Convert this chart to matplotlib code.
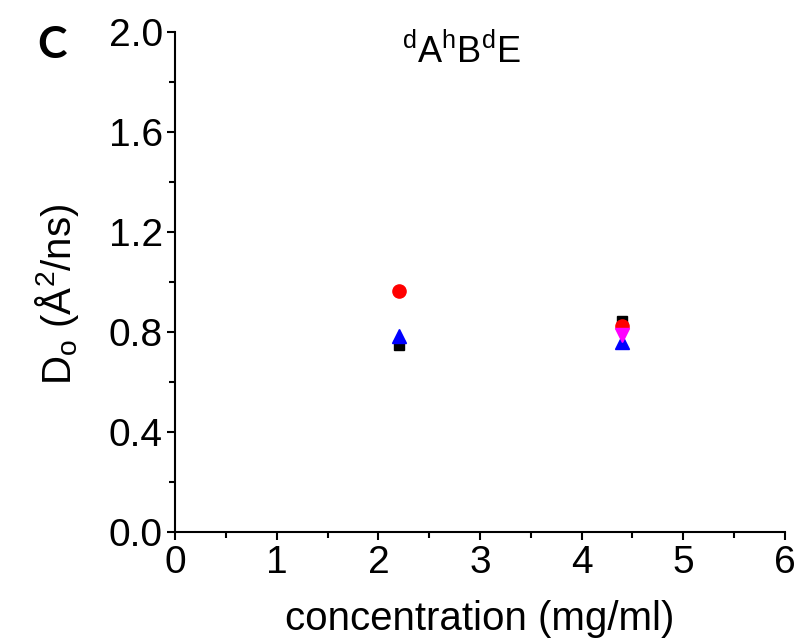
import matplotlib
import matplotlib.pyplot as plt
from matplotlib.ticker import MultipleLocator

matplotlib.use('agg', force=True)

plt.rcParams['font.family'] = ['Liberation Sans', 'DejaVu Sans']
plt.rcParams['mathtext.fontset'] = 'custom'
plt.rcParams['mathtext.rm'] = 'Liberation Sans'
plt.rcParams['mathtext.it'] = 'Liberation Sans'

# D_o values per run at each concentration
conc = [2.2, 4.4]
black_sq = [0.75, 0.845]
red_circ = [0.965, 0.825]
blue_up = [0.785, 0.76]
mag_conc = [4.4]
mag_down = [0.79]

fig = plt.figure(figsize=(8, 6.41), dpi=100)
ax = fig.add_axes([0.219, 0.170, 0.762, 0.780])

ax.plot(conc, black_sq, ls='none', marker='s', ms=7, color='black')
ax.plot(conc, red_circ, ls='none', marker='o', ms=9.5, color='red')
ax.plot(conc, blue_up, ls='none', marker='^', ms=10, color='blue')
ax.plot(mag_conc, mag_down, ls='none', marker='v', ms=10, color='magenta')

ax.set_xlim(0, 6)
ax.set_ylim(0, 2.0)
ax.xaxis.set_major_locator(MultipleLocator(1))
ax.xaxis.set_minor_locator(MultipleLocator(0.5))
ax.yaxis.set_major_locator(MultipleLocator(0.4))
ax.yaxis.set_minor_locator(MultipleLocator(0.2))
ax.yaxis.set_major_formatter(matplotlib.ticker.FormatStrFormatter('%.1f'))

for side in ['top', 'right']:
    ax.spines[side].set_visible(False)
for side in ['left', 'bottom']:
    ax.spines[side].set_linewidth(1.5)
ax.tick_params(which='major', direction='out', length=6, width=1.5, labelsize=28, pad=3)
ax.tick_params(which='minor', direction='out', length=4, width=1.5)

ax.set_xlabel('concentration (mg/ml)', fontsize=29, labelpad=14)
ax.set_ylabel(r'D$_{\mathrm{o}}$ (Å$^{\mathrm{2}}$/ns)', fontsize=29)
ax.yaxis.set_label_coords(-0.155, 0.475)

ax.text(0.47, 0.96, r'$^{\mathrm{d}}$A$^{\mathrm{h}}$B$^{\mathrm{d}}$E', transform=ax.transAxes,
        ha='center', va='center', fontsize=26)
fig.text(0.046, 0.93, 'C', fontsize=32, fontweight='bold', family='Lato', ha='left', va='center')

plt.savefig('out.png')
